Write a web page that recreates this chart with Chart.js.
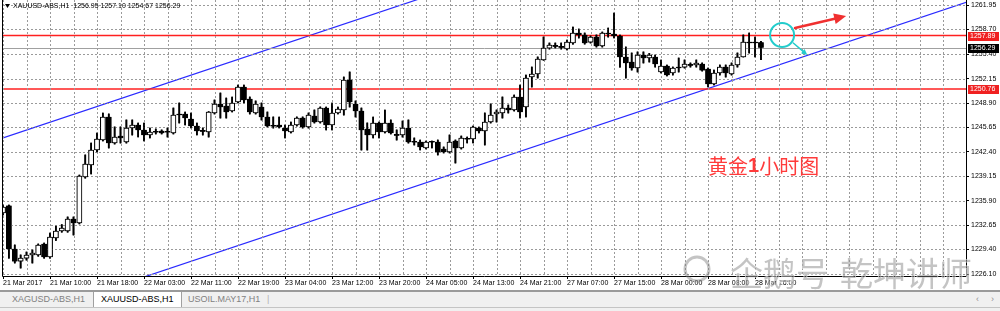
<!DOCTYPE html>
<html>
<head>
<meta charset="utf-8">
<title>XAUUSD-ABS,H1</title>
<script src="https://cdn.jsdelivr.net/npm/chart.js@4.4.1/dist/chart.umd.min.js"></script>
<style>
  html, body { margin: 0; padding: 0; background: #fff; }
  #wrap { position: relative; width: 1000px; height: 311px; overflow: hidden; font-family: "Liberation Sans", Arial, sans-serif; }
  #c { position: absolute; left: 0; top: 0; }
  #tabs { position: absolute; left: 0; top: 290px; width: 1000px; height: 21px; background: #f0f0f0; border-top: 2px solid #9a9a9a; box-sizing: border-box; }
  #tabs:after { content: ""; position: absolute; left: 0; right: 0; top: 15px; height: 1px; background: #c4c4c4; }
  .tab { position: absolute; top: 0; height: 15px; line-height: 15px; font-size: 9px; color: #808080; white-space: nowrap; }
  .tab.act { background: #fff; color: #000; border-left: 1px solid #a0a0a0; border-right: 1px solid #a0a0a0; padding: 0 7px; z-index: 2; }
  .nav { position: absolute; top: 0; height: 15px; line-height: 15px; font-size: 9px; color: #909090; }
</style>
</head>
<body>
<div id="wrap">
  <canvas id="c" width="1000" height="290"></canvas>
  <div id="tabs">
    <div class="tab" style="left:12px">XAGUSD-ABS,H1</div>
    <div class="tab act" style="left:93px">XAUUSD-ABS,H1</div>
    <div class="tab" style="left:188px">USOIL.MAY17,H1</div>
    <div class="tab" style="left:267px;color:#b0b0b0">|</div>
    <div class="nav" style="left:976px">&#8249;</div>
    <div class="nav" style="left:991px">&#8250;</div>
  </div>
</div>
<script>
// XAUUSD H1, bar index 0 = first bar on screen
var opens = [1234.25, 1235.19, 1229.46, 1227.85, 1228.25, 1228.66, 1228.66, 1230.12, 1228.39, 1230.92,
  1231.85, 1231.85, 1233.45, 1232.92, 1239.05, 1240.64, 1242.64, 1243.97, 1247.04, 1243.57,
  1244.50, 1243.71, 1245.57, 1245.97, 1245.31, 1244.64, 1245.04, 1245.17, 1245.04, 1244.91,
  1247.44, 1247.44, 1246.77, 1245.84, 1245.17, 1245.04, 1247.57, 1248.77, 1248.50, 1247.84,
  1249.03, 1251.03, 1249.43, 1247.57, 1248.37, 1247.04, 1245.84, 1245.97, 1245.57, 1245.04,
  1245.97, 1246.90, 1245.71, 1247.17, 1246.37, 1248.23, 1245.97, 1247.57, 1247.97, 1251.96,
  1248.77, 1247.84, 1245.44, 1244.64, 1246.24, 1245.04, 1246.24, 1244.64, 1244.64, 1245.57,
  1243.71, 1243.71, 1242.91, 1243.71, 1243.71, 1242.78, 1242.38, 1243.84, 1242.91, 1244.11,
  1244.11, 1245.57, 1245.17, 1246.37, 1247.44, 1247.57, 1248.23, 1247.97, 1249.70, 1248.37,
  1252.36, 1252.76, 1254.63, 1256.22, 1256.49, 1256.36, 1256.09, 1256.89, 1258.22, 1257.96,
  1257.02, 1257.69, 1256.49, 1258.22, 1258.09, 1257.82, 1255.03, 1254.36, 1253.56, 1255.29,
  1254.89, 1255.03, 1253.03, 1253.83, 1252.90, 1253.69, 1253.69, 1253.96, 1253.96, 1254.09,
  1253.43, 1251.43, 1252.90, 1253.69, 1252.76, 1253.96, 1255.03, 1257.02, 1257.02, 1256.95];
var highs = [1235.30, 1235.30, 1229.99, 1228.66, 1229.05, 1229.33, 1230.12, 1230.25, 1231.59, 1232.50,
  1232.70, 1233.72, 1233.72, 1239.30, 1241.98, 1243.57, 1244.91, 1247.57, 1247.44, 1245.71,
  1245.71, 1246.64, 1246.64, 1246.24, 1246.24, 1245.57, 1245.44, 1245.31, 1245.57, 1248.23,
  1248.90, 1247.70, 1247.57, 1246.24, 1245.57, 1247.75, 1249.30, 1250.23, 1249.56, 1249.70,
  1251.30, 1251.30, 1249.70, 1249.17, 1248.90, 1247.70, 1247.04, 1247.04, 1245.97, 1246.37,
  1247.04, 1247.04, 1247.57, 1247.97, 1248.37, 1248.37, 1248.90, 1248.37, 1252.36, 1253.03,
  1249.17, 1248.23, 1246.24, 1247.04, 1246.37, 1247.97, 1246.64, 1245.31, 1246.50, 1246.64,
  1244.24, 1243.97, 1243.84, 1243.84, 1243.97, 1243.04, 1244.64, 1243.97, 1244.50, 1244.37,
  1245.84, 1245.71, 1247.57, 1248.77, 1247.97, 1249.70, 1248.63, 1249.96, 1251.30, 1252.63,
  1253.69, 1255.03, 1257.69, 1256.89, 1256.89, 1256.89, 1257.29, 1259.02, 1258.75, 1258.22,
  1257.82, 1257.96, 1258.35, 1258.88, 1260.88, 1257.96, 1256.36, 1255.56, 1255.70, 1255.70,
  1255.50, 1255.29, 1254.63, 1253.96, 1253.69, 1254.89, 1254.63, 1254.23, 1254.63, 1254.23,
  1253.56, 1253.29, 1253.96, 1253.96, 1254.23, 1255.56, 1257.96, 1258.22, 1257.69, 1257.10];
var lows = [1234.00, 1228.25, 1227.59, 1226.92, 1227.98, 1227.59, 1228.50, 1228.25, 1228.25, 1230.60,
  1231.70, 1231.70, 1231.32, 1232.80, 1238.90, 1239.45, 1242.38, 1243.84, 1242.91, 1243.44,
  1243.57, 1243.57, 1244.64, 1244.37, 1243.84, 1244.24, 1244.78, 1244.78, 1244.37, 1244.78,
  1246.24, 1245.97, 1245.57, 1244.64, 1244.64, 1244.37, 1247.44, 1246.90, 1246.90, 1247.70,
  1248.90, 1248.90, 1247.44, 1247.44, 1246.64, 1245.71, 1245.57, 1245.57, 1244.24, 1244.91,
  1245.84, 1245.57, 1245.57, 1246.24, 1246.24, 1245.31, 1245.31, 1247.44, 1247.30, 1248.37,
  1247.04, 1242.64, 1242.64, 1244.24, 1244.24, 1244.91, 1244.78, 1243.97, 1244.37, 1243.57,
  1243.31, 1242.64, 1242.78, 1242.91, 1241.98, 1242.25, 1242.25, 1240.91, 1242.78, 1243.57,
  1243.57, 1244.91, 1243.31, 1246.24, 1246.37, 1246.90, 1247.57, 1247.84, 1246.90, 1247.04,
  1251.03, 1252.23, 1254.60, 1256.09, 1256.22, 1256.09, 1255.96, 1256.75, 1257.56, 1256.75,
  1256.89, 1256.36, 1256.36, 1257.69, 1257.56, 1253.69, 1252.23, 1253.29, 1253.03, 1254.23,
  1254.36, 1253.69, 1252.90, 1252.50, 1252.63, 1253.03, 1253.56, 1253.69, 1253.69, 1253.16,
  1251.03, 1251.30, 1252.63, 1252.36, 1252.63, 1253.69, 1255.03, 1255.56, 1255.03, 1254.67];
var closes = [1235.05, 1229.46, 1227.85, 1228.25, 1228.66, 1228.92, 1229.99, 1228.39, 1231.05, 1231.85,
  1232.25, 1233.45, 1232.92, 1239.18, 1240.78, 1242.64, 1244.11, 1247.04, 1243.57, 1244.37,
  1244.24, 1245.57, 1245.97, 1245.31, 1244.64, 1245.04, 1245.00, 1244.91, 1245.00, 1247.30,
  1247.30, 1246.90, 1245.84, 1245.17, 1245.13, 1247.70, 1248.77, 1248.37, 1247.70, 1248.90,
  1251.03, 1249.30, 1247.70, 1248.77, 1247.04, 1245.84, 1245.80, 1245.71, 1245.17, 1245.97,
  1246.90, 1245.71, 1247.30, 1246.37, 1248.23, 1245.97, 1247.57, 1248.10, 1251.96, 1249.03,
  1247.84, 1245.31, 1244.64, 1246.24, 1245.04, 1246.24, 1244.91, 1244.60, 1245.57, 1243.71,
  1243.67, 1243.04, 1243.71, 1243.67, 1242.38, 1242.38, 1243.71, 1242.91, 1244.24, 1244.07,
  1245.71, 1245.17, 1246.37, 1247.30, 1247.70, 1248.23, 1247.97, 1249.70, 1247.70, 1252.23,
  1252.76, 1254.76, 1256.22, 1256.62, 1256.45, 1256.32, 1257.02, 1258.22, 1257.96, 1256.89,
  1257.69, 1256.49, 1258.22, 1258.09, 1257.82, 1255.03, 1254.23, 1253.56, 1255.29, 1254.89,
  1255.29, 1254.09, 1253.83, 1252.63, 1253.56, 1253.56, 1254.09, 1253.92, 1254.23, 1253.29,
  1251.43, 1252.90, 1253.69, 1252.90, 1253.96, 1255.03, 1257.02, 1256.89, 1256.89, 1256.29];

// time axis labels, one every 8 bars
var timeLabels = ['21 Mar 2017', '21 Mar 10:00', '21 Mar 18:00', '22 Mar 03:00', '22 Mar 11:00',
  '22 Mar 19:00', '23 Mar 04:00', '23 Mar 12:00', '23 Mar 20:00', '24 Mar 05:00', '24 Mar 13:00',
  '24 Mar 21:00', '27 Mar 07:00', '27 Mar 15:00', '28 Mar 00:00', '28 Mar 08:00', '28 Mar 16:00'];
var priceTicks = [1261.95, 1258.70, 1255.40, 1252.15, 1248.90, 1245.65, 1242.40, 1239.15,
  1235.90, 1232.65, 1229.40, 1226.10];

// horizontal levels and channel (bar, price)
var levels = [1257.89, 1250.76];
var bidPrice = 1256.29;
var upperChannel = [[0, 1244.24], [90, 1267.77]];
var lowerChannel = [[20, 1224.68], [170, 1263.89]];

// hand-drawn marks (bar, price)
var circleMark = [132.6, 1257.96];
var redArrow = [[134.8, 1258.89], [143.5, 1260.49]];
var cyanArrow = [[134.5, 1256.89], [136.9, 1255.29]];
var noteAt = [120, 1240.5];

var xMax = 163.9;
var yMin = 1225.86, yMax = 1262.62;
var FONT = '"Liberation Sans", Arial, sans-serif';
var CJK = '"Noto Sans CJK SC", sans-serif';

var bodies = opens.map(function (o, i) { return {x: i, y: [o, closes[i]]}; });
var wicks = lows.map(function (l, i) { return {x: i, y: [l, highs[i]]}; });
function hline(v) { return [{x: 0, y: v}, {x: xMax, y: v}]; }
function seg(p) { return p.map(function (q) { return {x: q[0], y: q[1]}; }); }

var gridX = [];
for (var g = 0; g <= xMax; g += 4) gridX.push(g);

function lineSet(data, color, w) {
    return {type: 'line', data: data, borderColor: color, backgroundColor: color, borderWidth: w || 1, pointRadius: 0, fill: false, order: 2};
}

function drawArrow(ctx, x1, y1, x2, y2, color, w, head) {
    var a = Math.atan2(y2 - y1, x2 - x1);
    ctx.strokeStyle = color;
    ctx.fillStyle = color;
    ctx.lineWidth = w;
    ctx.lineCap = 'round';
    ctx.beginPath();
    ctx.moveTo(x1, y1);
    ctx.lineTo(x2 - head * 0.8 * Math.cos(a), y2 - head * 0.8 * Math.sin(a));
    ctx.stroke();
    ctx.beginPath();
    ctx.moveTo(x2, y2);
    ctx.lineTo(x2 - head * Math.cos(a) + head * 0.45 * Math.sin(a), y2 - head * Math.sin(a) - head * 0.45 * Math.cos(a));
    ctx.lineTo(x2 - head * Math.cos(a) - head * 0.45 * Math.sin(a), y2 - head * Math.sin(a) + head * 0.45 * Math.cos(a));
    ctx.closePath();
    ctx.fill();
}

var overlay = {
    id: 'overlay',
    afterDraw: function (chart) {
        var ctx = chart.ctx, a = chart.chartArea, x = chart.scales.x, y = chart.scales.y;
        ctx.save();

        // dashed grid
        ctx.strokeStyle = '#9a9a9a';
        ctx.lineWidth = 1;
        ctx.setLineDash([2, 2]);
        ctx.beginPath();
        gridX.forEach(function (v) {
            var px = Math.round(x.getPixelForValue(v)) + 0.5;
            ctx.moveTo(px, a.top);
            ctx.lineTo(px, a.bottom);
        });
        priceTicks.forEach(function (v) {
            var py = Math.round(y.getPixelForValue(v)) + 0.5;
            ctx.moveTo(a.left, py);
            ctx.lineTo(a.right, py);
        });
        ctx.stroke();
        ctx.setLineDash([]);

        // bid line
        var by = Math.round(y.getPixelForValue(bidPrice)) + 0.5;
        ctx.strokeStyle = '#a0a0a0';
        ctx.beginPath();
        ctx.moveTo(a.left, by);
        ctx.lineTo(a.right, by);
        ctx.stroke();

        // put the candles back over the grid
        ctx.save();
        ctx.beginPath();
        ctx.rect(a.left, a.top, a.right - a.left, a.bottom - a.top);
        ctx.clip();
        chart.getDatasetMeta(1).controller.draw();
        chart.getDatasetMeta(0).controller.draw();
        ctx.restore();

        // chart frame
        ctx.strokeStyle = '#000';
        ctx.lineWidth = 1;
        ctx.beginPath();
        ctx.moveTo(a.left - 0.5, a.top);
        ctx.lineTo(a.left - 0.5, a.bottom + 0.5);
        ctx.lineTo(a.right + 0.5, a.bottom + 0.5);
        ctx.lineTo(a.right + 0.5, a.top);
        ctx.stroke();

        // price tags on the right axis
        function tag(v, bg) {
            var py = Math.round(y.getPixelForValue(v));
            ctx.fillStyle = bg;
            ctx.fillRect(a.right + 2, py - 4, 31, 9);
            ctx.fillStyle = '#fff';
            ctx.font = '7px ' + FONT;
            ctx.textBaseline = 'middle';
            ctx.textAlign = 'left';
            ctx.fillText(v.toFixed(2), a.right + 4, py + 0.5);
        }
        tag(levels[0], '#f02020');
        tag(levels[1], '#f02020');
        tag(bidPrice, '#000');

        // title
        ctx.fillStyle = '#000';
        ctx.beginPath();
        ctx.moveTo(a.left + 2, 4);
        ctx.lineTo(a.left + 7, 4);
        ctx.lineTo(a.left + 4.5, 8);
        ctx.closePath();
        ctx.fill();
        ctx.font = '7px ' + FONT;
        ctx.textBaseline = 'middle';
        ctx.fillText('XAUUSD-ABS,H1  ' + [opens[129], highs[129], lows[129], closes[129]].map(function (v) { return v.toFixed(2); }).join(' '), a.left + 10, 6.5);

        // circle + arrows
        ctx.strokeStyle = '#22cccc';
        ctx.lineWidth = 2;
        ctx.beginPath();
        ctx.arc(x.getPixelForValue(circleMark[0]), y.getPixelForValue(circleMark[1]), 12, 0, Math.PI * 2);
        ctx.stroke();
        drawArrow(ctx, x.getPixelForValue(redArrow[0][0]), y.getPixelForValue(redArrow[0][1]),
            x.getPixelForValue(redArrow[1][0]), y.getPixelForValue(redArrow[1][1]), '#f03030', 2.5, 12);
        drawArrow(ctx, x.getPixelForValue(cyanArrow[0][0]), y.getPixelForValue(cyanArrow[0][1]),
            x.getPixelForValue(cyanArrow[1][0]), y.getPixelForValue(cyanArrow[1][1]), '#22cccc', 1.5, 6);

        // note text
        var nx = x.getPixelForValue(noteAt[0]), ny = y.getPixelForValue(noteAt[1]);
        ctx.fillStyle = '#ff3b3b';
        ctx.textBaseline = 'middle';
        ctx.font = '20px ' + CJK;
        ctx.fillText('黄金', nx, ny);
        nx += ctx.measureText('黄金').width;
        ctx.font = 'bold 20px ' + FONT;
        ctx.fillText('1', nx, ny);
        nx += ctx.measureText('1').width;
        ctx.font = '20px ' + CJK;
        ctx.fillText('小时图', nx, ny);

        // watermark
        ctx.fillStyle = 'rgba(125,125,125,0.45)';
        ctx.strokeStyle = 'rgba(255,255,255,0.7)';
        ctx.lineWidth = 1;
        ctx.font = '33px ' + CJK;
        ctx.textBaseline = 'middle';
        ctx.strokeText('企鹅号', a.right - 236, a.bottom - 3);
        ctx.fillText('企鹅号', a.right - 236, a.bottom - 3);
        ctx.strokeText('乾坤讲师', a.right - 126, a.bottom - 3);
        ctx.fillText('乾坤讲师', a.right - 126, a.bottom - 3);
        ctx.strokeStyle = 'rgba(125,125,125,0.45)';
        ctx.lineWidth = 3;
        ctx.beginPath();
        ctx.arc(a.right - 269, a.bottom - 7, 12, 0, Math.PI * 2);
        ctx.stroke();

        ctx.restore();
    }
};

new Chart(document.getElementById('c'), {
    type: 'bar',
    data: {
        datasets: [
            {
                type: 'bar', data: bodies, order: 0, grouped: false, barThickness: 5,
                borderWidth: 1, borderColor: '#000', borderSkipped: false, minBarLength: 1,
                backgroundColor: function (c) {
                    var i = c.dataIndex;
                    if (i === undefined) return '#000';
                    return closes[i] >= opens[i] ? '#fff' : '#000';
                }
            },
            {type: 'bar', data: wicks, order: 1, grouped: false, barThickness: 1, backgroundColor: '#000', borderWidth: 0},
            lineSet(hline(levels[0]), '#ff2020', 1.5),
            lineSet(hline(levels[1]), '#ff2020', 1.5),
            lineSet(seg(upperChannel), '#2a2aff', 1.2),
            lineSet(seg(lowerChannel), '#2a2aff', 1.2)
        ]
    },
    options: {
        responsive: false,
        animation: false,
        devicePixelRatio: 1,
        events: [],
        layout: {padding: {left: 3, top: 0, right: 0, bottom: 0}},
        plugins: {legend: {display: false}, tooltip: {enabled: false}},
        scales: {
            x: {
                type: 'linear', min: 0, max: xMax, offset: false,
                grid: {
                    offset: false, drawOnChartArea: false, tickLength: 3,
                    tickColor: function (c) {
                        return c.tick && c.tick.value % 8 === 0 && c.tick.value <= 128 ? '#000' : 'rgba(0,0,0,0)';
                    }
                },
                border: {display: false},
                afterBuildTicks: function (s) { s.ticks = gridX.map(function (v) { return {value: v}; }); },
                afterFit: function (s) { s.height = 14; s.paddingLeft = 0; s.paddingRight = 0; },
                ticks: {
                    autoSkip: false, maxRotation: 0, minRotation: 0, align: 'start', padding: 0,
                    font: {family: FONT, size: 7}, color: '#000',
                    callback: function (v) { return v % 8 === 0 && timeLabels[v / 8] ? timeLabels[v / 8] : ''; }
                }
            },
            y: {
                type: 'linear', position: 'right', min: yMin, max: yMax, beginAtZero: false,
                grid: {drawOnChartArea: false, tickLength: 3, tickColor: '#000'},
                border: {display: false},
                afterBuildTicks: function (s) { s.ticks = priceTicks.map(function (v) { return {value: v}; }); },
                afterFit: function (s) { s.width = 34; s.paddingTop = 0; s.paddingBottom = 0; },
                ticks: {
                    padding: 2, font: {family: FONT, size: 7}, color: '#000',
                    callback: function (v) { return v.toFixed(2); }
                }
            }
        }
    },
    plugins: [overlay]
});
</script>
</body>
</html>
